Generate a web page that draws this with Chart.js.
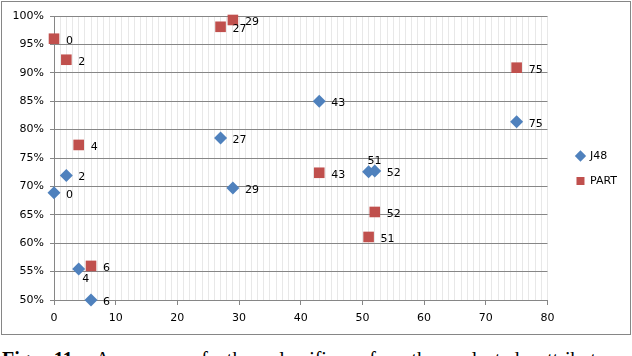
<!DOCTYPE html>
<html>
<head>
<meta charset="utf-8">
<script src="https://cdn.jsdelivr.net/npm/chart.js@4/dist/chart.umd.min.js"></script>
<style>
    body {margin: 0; background: #fff; width: 632px; height: 356px; overflow: hidden; position: relative;}
    #frame {position: absolute; left: 1px; top: 1px; width: 630px; height: 334px; box-sizing: border-box; border: 1px solid #868686;}
    #wrap {position: absolute; left: 1px; top: 1px; width: 628px; height: 332px;}
    #caption {position: absolute; left: 2px; top: 349px; font: 20px "Liberation Serif", serif; line-height: 20px; white-space: nowrap; word-spacing: 14px; color: #000;}
</style>
</head>
<body>
<div id="frame"><div id="wrap"><canvas id="accuracy-chart" width="628" height="332"></canvas></div></div>
<div id="caption"><b>Fig. 11.</b> Accuracy of the classifiers for the selected attributes</div>
<script>
// number of removed attributes (x) and accuracy in % (y)
const attrCounts = [0, 2, 4, 6, 27, 29, 43, 51, 52, 75];
const j48Accuracy = [68.9, 71.9, 55.45, 50.0, 78.5, 69.7, 85.0, 72.6, 72.7, 81.4];
const partAccuracy = [96.0, 92.3, 77.3, 56.0, 98.1, 99.3, 72.4, 61.1, 65.5, 90.9];
// where the value label sits relative to its marker
const j48LabelPos = ['right', 'right', 'below', 'right', 'right', 'right', 'right', 'above', 'right', 'right'];
const partLabelPos = ['right', 'right', 'right', 'right', 'right', 'right', 'right', 'right', 'right', 'right'];

const axisGray = '#868686';
const textFont = {family: '"DejaVu Sans", sans-serif', size: 11};

const toPoints = ys => attrCounts.map((x, i) => ({x: x, y: ys[i]}));

// draws the x value next to each marker
const valueLabels = {
    id: 'valueLabels',
    afterDatasetsDraw(chart) {
        const ctx = chart.ctx;
        ctx.save();
        ctx.font = '11px "DejaVu Sans", sans-serif';
        ctx.fillStyle = '#000';
        chart.data.datasets.forEach((ds, di) => {
            const meta = chart.getDatasetMeta(di);
            meta.data.forEach((pt, i) => {
                const pos = ds.labelPos[i];
                const text = String(ds.data[i].x);
                if (pos === 'below') {
                    ctx.textAlign = 'center';
                    ctx.textBaseline = 'top';
                    ctx.fillText(text, pt.x + 7, pt.y + 5);
                } else if (pos === 'above') {
                    ctx.textAlign = 'center';
                    ctx.textBaseline = 'bottom';
                    ctx.fillText(text, pt.x + 6, pt.y - 5);
                } else {
                    ctx.textAlign = 'left';
                    ctx.textBaseline = 'middle';
                    ctx.fillText(text, pt.x + 12, pt.y + 2);
                }
            });
        });
        ctx.restore();
    }
};

// nudge the legend block a bit right and up, like the original
const legendNudge = {
    id: 'legendNudge',
    afterLayout(chart) {
        const lg = chart.legend;
        if (!lg) return;
        lg.left += 15; lg.right += 15;
        lg.top -= 7; lg.bottom -= 7;
    }
};

new Chart(document.getElementById('accuracy-chart').getContext('2d'), {
    type: 'scatter',
    data: {
        datasets: [
            {
                label: 'J48',
                data: toPoints(j48Accuracy),
                labelPos: j48LabelPos,
                pointStyle: 'rectRot',
                pointRadius: 6.5,
                pointHoverRadius: 6.5,
                backgroundColor: '#4F81BD',
                borderColor: '#4F81BD',
                borderWidth: 0,
                clip: false
            },
            {
                label: 'PART',
                data: toPoints(partAccuracy),
                labelPos: partLabelPos,
                pointStyle: 'rect',
                pointRadius: 7.5,
                pointHoverRadius: 7.5,
                backgroundColor: '#C0504D',
                borderColor: '#C0504D',
                borderWidth: 0,
                clip: false
            }
        ]
    },
    options: {
        responsive: false,
        animation: false,
        layout: {padding: {top: 13, right: 19, bottom: 0, left: 0}},
        scales: {
            x: {
                type: 'linear',
                min: 0,
                max: 80,
                border: {color: axisGray, width: 1},
                grid: {
                    color: '#e8e8e8',
                    tickLength: 5,
                    tickColor: c => (c.tick && c.tick.value % 10 === 0) ? axisGray : 'rgba(0,0,0,0)'
                },
                ticks: {
                    stepSize: 1,
                    autoSkip: false,
                    maxRotation: 0,
                    padding: 7,
                    color: '#000',
                    font: textFont,
                    callback: v => v % 10 === 0 ? v : ''
                },
                afterFit: s => { s.height = 35; }
            },
            y: {
                min: 50,
                max: 100,
                border: {color: axisGray, width: 1},
                grid: {color: axisGray, tickLength: 4, tickColor: axisGray},
                ticks: {
                    stepSize: 5,
                    padding: 6,
                    color: '#000',
                    font: textFont,
                    callback: v => v + '%'
                },
                afterFit: s => { s.width = 51; }
            }
        },
        plugins: {
            legend: {
                position: 'right',
                labels: {
                    usePointStyle: true,
                    boxWidth: 8,
                    boxHeight: 8,
                    padding: 14,
                    color: '#000',
                    font: textFont
                }
            },
            tooltip: {enabled: false}
        }
    },
    plugins: [valueLabels, legendNudge]
});
</script>
</body>
</html>
